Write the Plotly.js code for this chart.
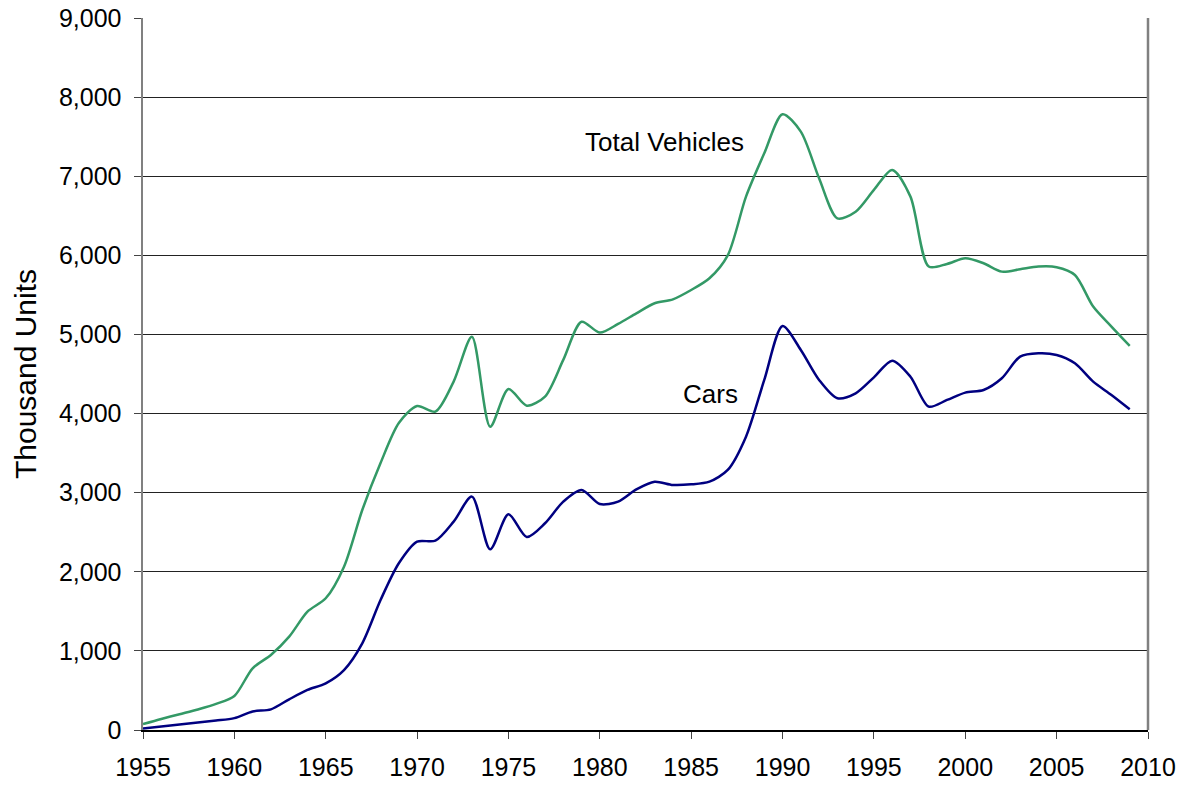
<!DOCTYPE html>
<html>
<head>
<meta charset="utf-8">
<script src="https://cdn.plot.ly/plotly-3.0.1.min.js"></script>
<style>html,body{margin:0;padding:0;background:#fff;}#chart{width:1188px;height:787px;}</style>
</head>
<body>
<div id="chart"></div>
<script>
const years = [1955,1956,1957,1958,1959,1960,1961,1962,1963,1964,1965,1966,1967,1968,1969,1970,1971,1972,1973,1974,1975,1976,1977,1978,1979,1980,1981,1982,1983,1984,1985,1986,1987,1988,1989,1990,1991,1992,1993,1994,1995,1996,1997,1998,1999,2000,2001,2002,2003,2004,2005,2006,2007,2008,2009];
const totalVehicles = [75,140,200,260,330,430,780,948,1180,1496,1665,2065,2781,3375,3880,4096,4025,4404,4970,3834,4310,4100,4214,4678,5160,5023,5133,5267,5394,5444,5562,5710,6000,6742,7290,7784,7564,6974,6468,6552,6827,7080,6742,5858,5891,5963,5900,5794,5824,5858,5850,5752,5352,5099,4855];
const cars = [20,45,70,95,120,150,235,261,388,506,590,758,1096,1643,2107,2381,2393,2634,2950,2284,2727,2440,2613,2887,3034,2857,2887,3042,3139,3097,3105,3139,3287,3708,4425,5107,4804,4425,4193,4256,4458,4668,4466,4087,4172,4265,4298,4446,4720,4762,4741,4635,4403,4235,4054];
const seriesNames = ["Total Vehicles","Cars"];
const yTickVals = [0,1000,2000,3000,4000,5000,6000,7000,8000,9000];
const yTickText = ["0","1,000","2,000","3,000","4,000","5,000","6,000","7,000","8,000","9,000"];
const xTickVals = [1955,1960,1965,1970,1975,1980,1985,1990,1995,2000,2005,2010];

const font = "Liberation Sans, Arial, sans-serif";
const traces = [
  {x: years, y: totalVehicles, name: seriesNames[0], type: "scatter", mode: "lines",
   line: {color: "#339966", width: 2.5, shape: "spline", smoothing: 0.8}},
  {x: years, y: cars, name: seriesNames[1], type: "scatter", mode: "lines",
   line: {color: "#000080", width: 2.5, shape: "spline", smoothing: 0.8}}
];
const layout = {
  width: 1188, height: 787,
  margin: {l: 143, r: 40, t: 18, b: 57},
  paper_bgcolor: "#fff", plot_bgcolor: "#fff",
  showlegend: false,
  font: {family: font, size: 25, color: "#000"},
  xaxis: {
    range: [1955, 2010], tickvals: xTickVals, ticktext: xTickVals.map(String),
    showgrid: false, zeroline: false, showline: true, linecolor: "#000", linewidth: 1.5,
    ticks: "outside", ticklen: 7, tickcolor: "#444", tickwidth: 1,
    ticklabelstandoff: 7,
    tickfont: {family: font, size: 25, color: "#000"}
  },
  yaxis: {
    range: [0, 9000], tickvals: yTickVals, ticktext: yTickText,
    showgrid: true, gridcolor: "#222", gridwidth: 1, zeroline: false,
    showline: true, linecolor: "#808080", linewidth: 2.5,
    ticks: "outside", ticklen: 7, tickcolor: "#444", tickwidth: 1,
    ticklabelstandoff: 7,
    tickfont: {family: font, size: 25, color: "#000"},
    title: {text: "Thousand Units", font: {family: font, size: 30, color: "#000"}, standoff: 14}
  },
  shapes: [
    {type: "line", xref: "paper", yref: "paper", x0: 1, x1: 1, y0: 0, y1: 1,
     line: {color: "#808080", width: 2.5}}
  ],
  annotations: [
    {x: 1983.55, y: 7430, xref: "x", yref: "y", text: "Total Vehicles", showarrow: false,
     font: {family: font, size: 26, color: "#000"}},
    {x: 1986.03, y: 4250, xref: "x", yref: "y", text: "Cars", showarrow: false,
     font: {family: font, size: 26, color: "#000"}}
  ]
};
Plotly.newPlot("chart", traces, layout, {displayModeBar: false, staticPlot: true});
</script>
</body>
</html>
